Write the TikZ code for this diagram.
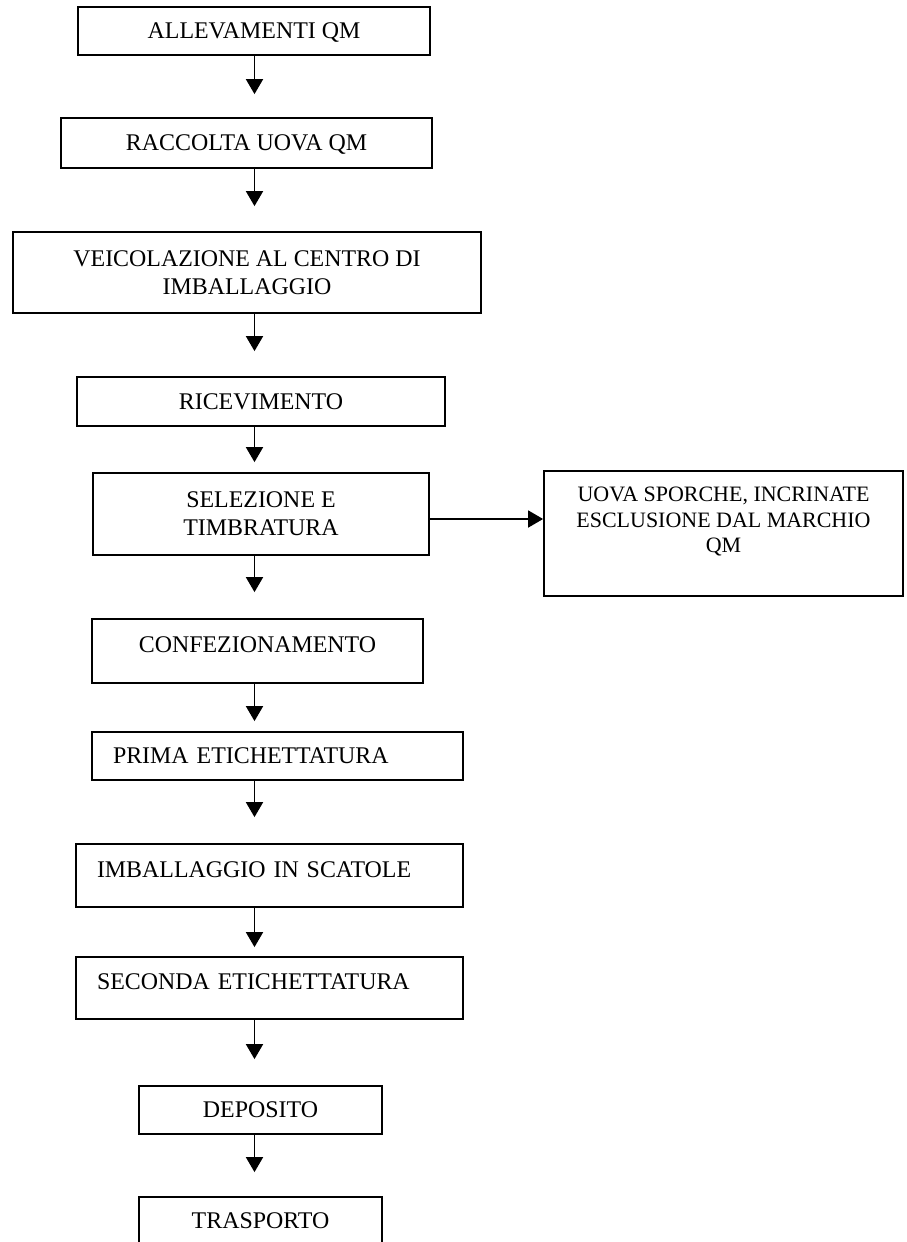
\documentclass[tikz,border=0pt]{standalone}
\usepackage{fontspec}
\setmainfont{Liberation Serif}
\usetikzlibrary{arrows.meta}

\begin{document}
\begin{tikzpicture}[>={Triangle[width=0.34cm,length=0.3cm]},line width=1pt,
        font=\fontsize{13.6}{16}\selectfont,
        fase/.style={draw,inner sep=0pt},
        riga/.style={text height=0.31cm,text depth=0pt},
        alta/.style={text height=0.31cm,text depth=0.25cm},
        sinistra/.style={align=left,inner xsep=0.42cm}]
    \useasboundingbox (0,0) rectangle (18.14,-24.84);
    \coordinate (asse) at (5.09,0);
    \node[fase,riga,minimum width=7.04cm,minimum height=0.96cm] (alle) at (5.08,-0.62) {ALLEVAMENTI QM};
    \node[fase,riga,minimum width=7.42cm,minimum height=1.0cm] (racc) at (4.93,-2.86) {RACCOLTA UOVA QM};
    \node[fase,align=center,minimum width=9.36cm,minimum height=1.62cm] (veic) at (4.94,-5.45) {VEICOLAZIONE AL CENTRO DI\\IMBALLAGGIO};
    \node[fase,riga,minimum width=7.36cm,minimum height=0.98cm] (rice) at (5.22,-8.03) {RICEVIMENTO};
    \node[fase,align=center,minimum width=6.72cm,minimum height=1.64cm] (sele) at (5.22,-10.28) {SELEZIONE E\\TIMBRATURA};
    \node[fase,align=center,text depth=0.54cm,minimum width=7.18cm,minimum height=2.5cm,
        font=\fontsize{12.5}{14.5}\selectfont] (uova) at (14.47,-10.67) {UOVA SPORCHE, INCRINATE\\ESCLUSIONE DAL MARCHIO\\QM};
    \node[fase,alta,minimum width=6.62cm,minimum height=1.28cm] (conf) at (5.15,-13.02) {CONFEZIONAMENTO};
    \node[fase,riga,sinistra,text width=6.58cm,minimum height=0.96cm] (prima) at (5.55,-15.12) {PRIMA ETICHETTATURA};
    \node[fase,alta,sinistra,text width=6.9cm,minimum height=1.26cm] (imba) at (5.39,-17.51) {IMBALLAGGIO IN SCATOLE};
    \node[fase,alta,sinistra,text width=6.9cm,minimum height=1.24cm] (seco) at (5.39,-19.76) {SECONDA ETICHETTATURA};
    \node[fase,riga,minimum width=4.86cm,minimum height=0.96cm] (depo) at (5.21,-22.20) {DEPOSITO};
    \node[fase,riga,minimum width=4.86cm,minimum height=0.96cm] (tras) at (5.21,-24.42) {TRASPORTO};
    \draw[->,shorten >=0.46cm] (alle.south -| asse) -- (racc.north -| asse);
    \draw[->,shorten >=0.5cm] (racc.south -| asse) -- (veic.north -| asse);
    \draw[->,shorten >=0.5cm] (veic.south -| asse) -- (rice.north -| asse);
    \draw[->,shorten >=0.2cm] (rice.south -| asse) -- (sele.north -| asse);
    \draw[->] ([yshift=-0.1cm]sele.east) -- ([yshift=-0.1cm]sele.east -| uova.west);
    \draw[->,shorten >=0.52cm] (sele.south -| asse) -- (conf.north -| asse);
    \draw[->,shorten >=0.2cm] (conf.south -| asse) -- (prima.north -| asse);
    \draw[->,shorten >=0.52cm] (prima.south -| asse) -- (imba.north -| asse);
    \draw[->,shorten >=0.18cm] (imba.south -| asse) -- (seco.north -| asse);
    \draw[->,shorten >=0.52cm] (seco.south -| asse) -- (depo.north -| asse);
    \draw[->,shorten >=0.48cm] (depo.south -| asse) -- (tras.north -| asse);
\end{tikzpicture}
\end{document}
